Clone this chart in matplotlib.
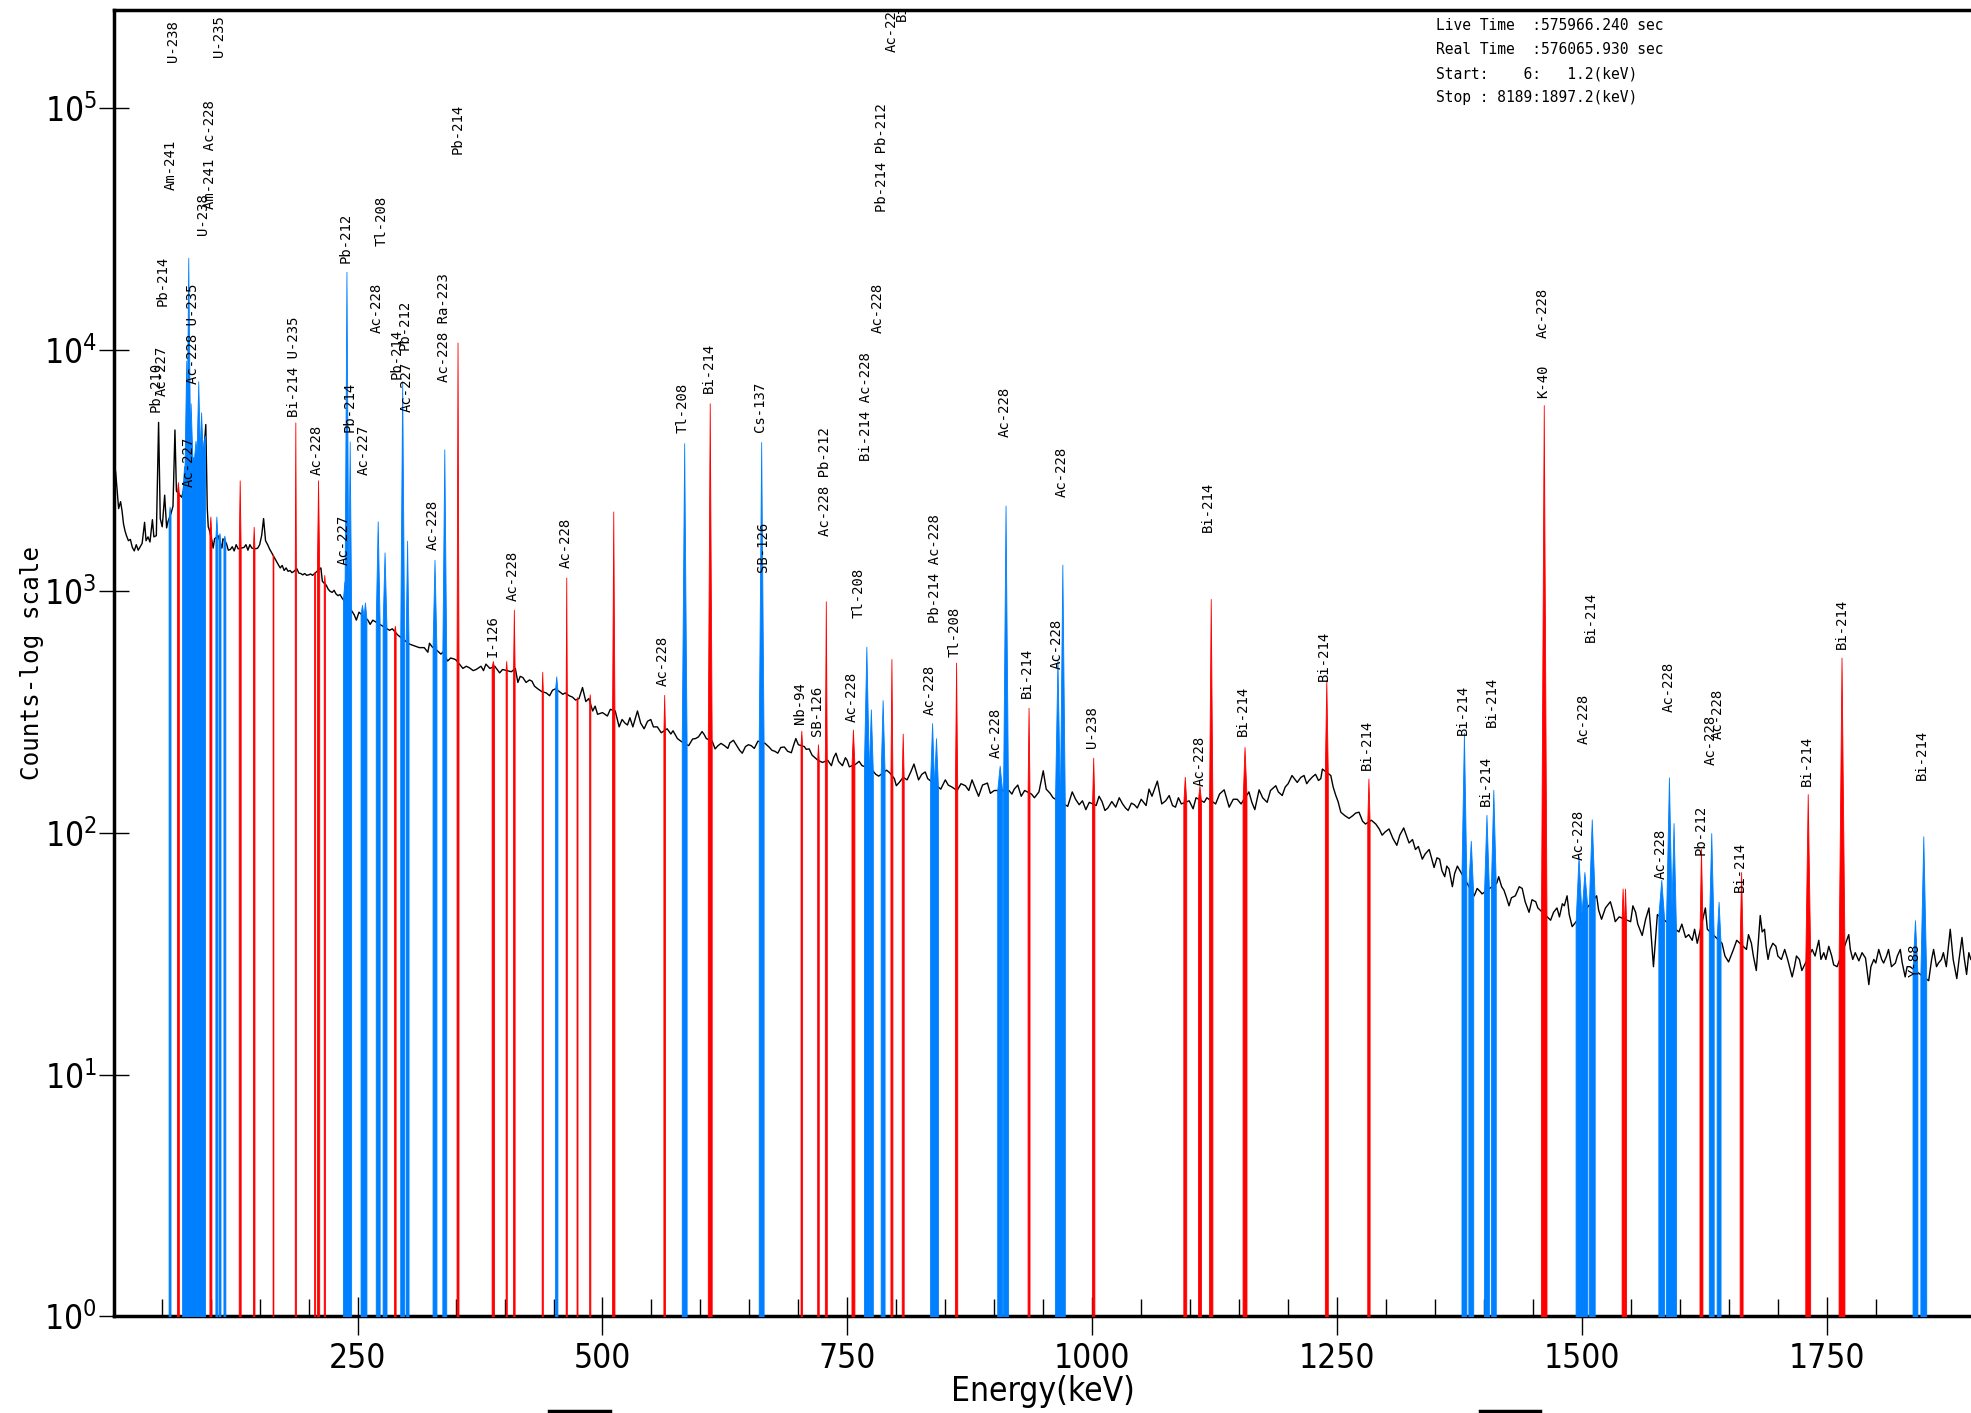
"""
Gamma spectrum with identified nuclide peaks (log counts vs energy).
"""
import os
import numpy as np
import matplotlib
matplotlib.use('Agg')
from matplotlib import pyplot as plt
from matplotlib import font_manager
from matplotlib.lines import Line2D
from matplotlib.ticker import MultipleLocator, NullLocator

# measured spectrum (continuum and unassigned spikes): energy in keV, counts
spec_kev = [
    1.5, 3, 4.5, 6, 8, 9.5, 11, 12.5, 14, 16,
    18, 20, 22, 24, 26, 28, 30, 32.5, 34, 36,
    38, 40.5, 42, 44.5, 46.8, 48.5, 50.5, 53, 55, 56.5,
    59.5, 61.5, 63.5, 65, 68.5, 70.5, 72, 74, 76, 78,
    80, 82, 84, 86, 88, 90, 92, 95, 96.5, 97.5,
    98.5, 101.5, 102.5, 104, 107.5, 111.5, 112.5, 116, 118, 120,
    122, 124, 126, 128, 131.5, 134, 136, 138, 140, 142,
    146, 148, 150, 152, 154, 156, 158.5, 160, 162, 165,
    167, 169, 171, 173, 175, 177, 179, 181, 183, 185,
    188, 190, 192, 194, 196, 198, 200, 202, 204, 212.5,
    214, 218, 220, 222, 224, 226, 228, 230, 232, 234,
    244, 246.5, 248.7, 251.4, 260.5, 262.8, 265.5, 280, 282.6, 285.4,
    291, 295, 303, 308, 313, 318, 321.7, 323.4, 326, 331,
    335, 337, 341.9, 345, 348.6, 350.5, 354, 357.5, 361, 364,
    368, 371, 376, 378.5, 381, 385, 390, 395, 398, 402.5,
    407, 411, 413.6, 416, 418.7, 422, 425.5, 428, 430.6, 434,
    438, 442.6, 446, 449, 452, 456, 459.5, 462, 466, 469.4,
    472.5, 476, 479.6, 483, 486, 490, 492.5, 495, 500, 505,
    508, 513, 517, 520, 523, 525.5, 528, 531, 535.7, 539,
    542.5, 546, 549.3, 552, 556, 560, 566, 569.8, 572, 576.5,
    580, 586, 588, 592, 595, 598, 601.7, 604, 606, 612,
    615, 618, 621, 624.5, 628, 630, 633.7, 637, 640, 642.7,
    646, 649, 651.8, 655, 658.7, 666, 670, 673, 676, 679,
    682, 685.7, 689, 692.8, 695, 697.4, 700, 706, 708, 711,
    714, 717, 720, 724.6, 730, 733.7, 736, 738.4, 741, 745,
    748, 749.8, 752, 758, 762, 765, 774, 779, 782, 790,
    793, 798, 800, 803, 807, 811, 815, 818, 822.7, 826,
    829.5, 832, 845.4, 850, 853, 856.8, 862, 866, 870.5, 874,
    877.3, 881, 884, 888, 893, 896, 900, 915, 918, 920.4,
    924, 927.5, 931, 938, 941, 945.6, 950, 953, 957, 960,
    975, 979.6, 983, 986.7, 990, 993.5, 997, 1004, 1007, 1010,
    1013, 1016, 1020, 1024, 1027.6, 1031, 1034, 1036.7, 1040, 1043,
    1046, 1050, 1055, 1058, 1061, 1066.5, 1071, 1075, 1078.6, 1082,
    1085, 1088, 1091, 1099, 1103, 1106, 1114.3, 1117, 1126, 1130,
    1134.7, 1139.8, 1144, 1148, 1152, 1160, 1163, 1166, 1170.4, 1174,
    1178.6, 1182, 1187.4, 1190, 1194, 1197, 1200, 1204, 1209.3, 1213,
    1216.3, 1219, 1221.4, 1225, 1228, 1231, 1233.4, 1235, 1243.6, 1246,
    1248.7, 1251, 1253.8, 1258, 1262.2, 1266, 1269, 1272.4, 1276, 1279,
    1285, 1289.5, 1293, 1296, 1299, 1303, 1307, 1311, 1314, 1318,
    1321, 1323.5, 1327, 1330, 1333, 1337, 1340, 1344, 1346, 1349,
    1352, 1354.7, 1357, 1359.9, 1362, 1364.3, 1367.7, 1370, 1372.8, 1390,
    1393, 1396.6, 1398, 1413, 1415, 1418, 1420.4, 1423, 1425.5, 1428,
    1432, 1436, 1439, 1442, 1446, 1449, 1452.8, 1455, 1468, 1471,
    1474.5, 1477, 1480, 1482, 1484.8, 1487, 1490, 1515, 1517, 1520,
    1524, 1529, 1532, 1534, 1538, 1549.7, 1552, 1554.8, 1557, 1561.5,
    1565, 1568.4, 1570, 1573, 1577, 1599, 1602, 1605.8, 1609, 1612.6,
    1615, 1617.7, 1626, 1628, 1643, 1646, 1649.7, 1654.7, 1658, 1668,
    1670, 1673, 1675, 1678, 1682, 1684, 1686.4, 1688, 1690, 1692,
    1694.9, 1698, 1700, 1703.6, 1707, 1710, 1714.6, 1717, 1719, 1722,
    1724.5, 1735, 1738, 1741.8, 1744, 1746.9, 1749, 1752, 1755, 1757,
    1760.5, 1772.4, 1774, 1776.5, 1779, 1782.7, 1786, 1789.5, 1792.9, 1795,
    1798, 1800, 1803, 1806, 1808, 1811, 1813, 1816, 1820, 1822,
    1825, 1827, 1830, 1832, 1835, 1854, 1857, 1859, 1862, 1864,
    1867, 1869, 1872, 1876, 1879, 1882.7, 1885, 1888, 1890, 1892.7,
    1895, 1897,
]
spec_cnt = [
    3400, 3100, 2600, 2200, 2350, 2150, 1900, 1780, 1700, 1620,
    1640, 1520, 1470, 1560, 1480, 1530, 1580, 1930, 1620, 1680,
    1600, 1980, 1680, 1700, 5000, 2000, 1850, 2500, 1830, 1950,
    2100, 2250, 4650, 2600, 2500, 2450, 2600, 3000, 3200, 3400,
    3300, 3400, 3300, 3400, 3300, 3200, 3300, 4900, 2200, 1850,
    1800, 1600, 1510, 1650, 1700, 1510, 1650, 1580, 1480, 1490,
    1530, 1470, 1560, 1500, 1510, 1520, 1560, 1480, 1560, 1510,
    1500, 1510, 1560, 1700, 2000, 1620, 1550, 1500, 1450, 1380,
    1330, 1290, 1250, 1280, 1220, 1250, 1210, 1220, 1195, 1210,
    1240, 1190, 1185, 1170, 1185, 1165, 1170, 1180, 1165, 1250,
    1100, 1060, 1020, 1000, 990, 1010, 975, 960, 970, 940,
    830, 800, 760, 820, 760, 730, 760, 700, 690, 700,
    660, 640, 605, 595, 585, 585, 560, 610, 590, 570,
    550, 560, 515, 530, 525, 520, 500, 480, 490, 483,
    470, 475, 490, 470, 500, 480, 490, 460, 475, 470,
    465, 480, 420, 445, 440, 420, 430, 425, 405, 395,
    385, 380, 370, 390, 395, 385, 375, 380, 370, 365,
    355, 360, 400, 350, 360, 320, 335, 310, 315, 305,
    325, 320, 275, 295, 285, 280, 300, 275, 320, 285,
    270, 290, 295, 275, 275, 260, 270, 257, 265, 246,
    240, 232, 230, 245, 246, 250, 263, 255, 246, 240,
    223, 230, 235, 230, 224, 236, 242, 230, 220, 214,
    228, 232, 230, 224, 240, 235, 227, 220, 218, 214,
    226, 227, 218, 215, 230, 246, 232, 228, 222, 223,
    210, 205, 200, 196, 200, 190, 205, 214, 198, 190,
    205, 200, 188, 192, 198, 190, 185, 175, 172, 182,
    178, 168, 157, 162, 170, 166, 180, 193, 166, 175,
    179, 168, 152, 166, 158, 155, 150, 160, 157, 150,
    166, 152, 142, 158, 161, 146, 150, 150, 145, 152,
    158, 142, 150, 145, 140, 148, 181, 152, 146, 140,
    129, 148, 138, 131, 136, 125, 134, 130, 142, 135,
    124, 127, 135, 128, 140, 132, 127, 124, 133, 131,
    127, 138, 130, 152, 142, 164, 132, 136, 143, 130,
    128, 140, 132, 136, 126, 140, 134, 140, 132, 145,
    151, 128, 138, 138, 132, 148, 134, 125, 151, 140,
    134, 150, 157, 148, 143, 155, 160, 173, 162, 170,
    173, 160, 165, 171, 175, 165, 168, 184, 173, 155,
    143, 135, 122, 118, 115, 118, 121, 122, 112, 109,
    113, 109, 104, 98, 101, 104, 95, 89, 98, 105,
    97, 91, 94, 85.5, 88, 78, 82, 85.5, 80, 72,
    79, 78, 70, 66, 73, 71, 60, 68, 73, 55,
    59, 57, 56, 62, 66, 60, 58, 54, 50, 54,
    55, 60, 59, 52, 47, 53, 52, 49, 43.6, 47,
    49, 45, 51, 50, 55, 46, 41, 55, 48, 44,
    49, 52, 47, 43, 45, 43, 50, 47, 42, 37.7,
    44, 49, 41, 28, 46, 39, 42, 37, 38, 36,
    40, 35, 49, 40, 35, 31, 29.3, 33, 36, 33,
    38, 35, 31, 27, 45.6, 39, 40, 34, 30, 33,
    35, 34, 31, 30, 33, 30, 25.4, 28, 31, 30,
    27, 33, 31, 36, 30, 32, 30, 34, 31, 28.5,
    28, 38, 33, 30, 32, 29.6, 32, 30.4, 23.6, 28,
    30, 29, 33, 30, 29, 31, 33, 28, 29, 31,
    33, 29, 25.4, 28, 28, 24.5, 30, 33, 28, 29,
    30, 32, 28, 40, 30, 25, 30, 37, 31, 26,
    32, 30,
]

# identified peaks: centroid (keV), top counts, colour key, half width (keV)
peak_kev = [
    58, 66.5, 72.8, 75, 77.1, 79.5, 82, 84.5, 87.3, 90.2, 92.7,
    99.7, 105.8, 109, 114, 129.6, 143.9, 163.6, 186.4, 206, 209.6, 216,
    236.5, 238.6, 241.9, 254.5, 257.5, 270.5, 277.5, 288, 295.5, 300.5, 328.5, 338.5, 352,
    388, 401.7, 409.5, 438.5, 452.8, 463, 474, 487, 511,
    563, 583.4, 609.5, 662, 703, 720, 728, 755.7, 769.4, 774, 786, 795, 806.5, 836.5, 840.5, 861,
    905.5, 911.5, 935, 964.5, 969.5, 1001,
    1094.5, 1109.5, 1121, 1155.5, 1239, 1282, 1379.5, 1386.5, 1402.5, 1409.5, 1461,
    1496.5, 1502.5, 1510, 1541.5, 1544, 1581, 1588.8, 1593.5, 1621.5, 1632, 1639.5, 1662.5,
    1730.5, 1765, 1840, 1848.5,
]
peak_cnt = [
    2240, 2830, 3300, 9000, 24000, 6000, 3600, 4200, 7400, 5500, 4200,
    2040, 2040, 1740, 1700, 2880, 1850, 1400, 5000, 1200, 2880, 1170,
    1100, 21000, 4170, 880, 900, 1950, 1450, 720, 7400, 1620, 1350, 3870, 10700,
    515, 515, 840, 465, 445, 1140, 365, 375, 2140,
    373, 4100, 6000, 4150, 265, 233, 910, 268, 590, 325, 355, 525, 258, 285, 247, 507,
    190, 2265, 330, 520, 1290, 205,
    171, 157, 930, 227, 430, 168, 260, 93, 119, 151, 5900,
    80, 69, 114, 59, 59, 64, 170, 110, 86, 100, 52, 69,
    145, 532, 43.6, 97,
]
peak_col = [
    'b', 'r', 'b', 'b', 'b', 'b', 'b', 'b', 'b', 'b', 'b',
    'r', 'b', 'b', 'b', 'r', 'r', 'r', 'r', 'r', 'r', 'r',
    'b', 'b', 'b', 'b', 'b', 'b', 'b', 'r', 'b', 'b', 'b', 'b', 'r',
    'r', 'r', 'r', 'r', 'b', 'r', 'r', 'r', 'r',
    'r', 'b', 'r', 'b', 'r', 'r', 'r', 'r', 'b', 'b', 'b', 'r', 'r', 'b', 'b', 'r',
    'b', 'b', 'r', 'b', 'b', 'r',
    'r', 'r', 'r', 'r', 'r', 'r', 'b', 'b', 'b', 'b', 'r',
    'b', 'b', 'b', 'r', 'r', 'b', 'b', 'b', 'r', 'b', 'b', 'r',
    'r', 'r', 'b', 'b',
]
peak_hw = [
    1.0, 1.0, 2.0, 2.0, 2.0, 2.0, 2.0, 2.0, 2.0, 2.0, 1.5,
    1.0, 1.0, 1.0, 1.0, 1.0, 0.8, 0.4, 0.6, 0.4, 1.2, 0.6,
    1.5, 2.0, 1.5, 1.5, 1.5, 2.0, 2.0, 0.8, 2.0, 1.5, 2.0, 2.0, 1.0,
    1.2, 0.6, 0.8, 0.6, 1.2, 0.6, 0.5, 0.6, 1.2,
    0.8, 2.5, 2.0, 2.5, 0.8, 0.8, 1.0, 1.5, 2.5, 2.0, 2.0, 1.0, 1.0, 2.0, 2.0, 1.2,
    2.5, 2.5, 1.0, 2.5, 2.5, 1.2,
    1.5, 1.5, 1.7, 2.0, 1.5, 1.2, 2.5, 2.5, 2.5, 2.5, 2.8,
    3.0, 3.0, 3.0, 1.0, 1.0, 3.0, 3.0, 2.5, 1.5, 2.5, 2.0, 1.5,
    2.5, 3.0, 2.5, 3.0,
]

# nuclide labels: text, energy (keV), counts where the text starts
label_txt = [
    'Pb-210', 'Ac-227', 'Pb-214', 'Am-241', 'U-238', 'Ac-227', 'Ac-228 U-235',
    'U-238', 'Am-241 Ac-228', 'U-235', 'Bi-214 U-235', 'Ac-228', 'Ac-227',
    'Pb-212', 'Pb-214', 'Ac-227', 'Ac-228', 'Tl-208', 'Pb-214', 'Pb-212',
    'Ac-227', 'Ac-228', 'Ac-228 Ra-223', 'Pb-214', 'I-126', 'Ac-228', 'Ac-228',
    'Ac-228', 'Tl-208', 'Bi-214', 'Cs-137', 'SB-126', 'Nb-94', 'SB-126',
    'Ac-228 Pb-212', 'Ac-228', 'Tl-208', 'Bi-214 Ac-228', 'Ac-228',
    'Pb-214 Pb-212', 'Ac-228', 'Bi-214', 'Ac-228', 'Pb-214 Ac-228', 'Tl-208',
    'Ac-228', 'Ac-228', 'Bi-214', 'Ac-228', 'Ac-228', 'U-238', 'Ac-228',
    'Bi-214', 'Bi-214', 'Bi-214', 'Bi-214', 'Bi-214', 'Bi-214', 'Bi-214',
    'K-40', 'Ac-228', 'Ac-228', 'Ac-228', 'Bi-214', 'Ac-228', 'Ac-228',
    'Pb-212', 'Ac-228', 'Ac-228', 'Bi-214', 'Bi-214', 'Bi-214', 'Y-88', 'Bi-214',
]
label_kev = [
    44, 49.6, 51, 59, 62, 78, 81.6, 92, 98.8, 108, 185, 208.5, 235.4,
    237.8, 242, 256, 269.6, 275, 289.5, 298, 300, 326.5, 338, 351.6, 388,
    408.6, 462, 562, 582, 608.6, 661, 664, 702, 719, 727, 755, 762, 769,
    781, 785.5, 795, 806, 834, 839.5, 860, 902, 911, 933, 964, 968.6, 1000,
    1110, 1118.5, 1154, 1237, 1280.6, 1378, 1401.7, 1408.5, 1460, 1460,
    1497, 1502, 1509, 1580, 1588.8, 1620.7, 1631, 1639, 1661.6, 1729.8,
    1765, 1840, 1847,
]
label_cnt = [
    5500, 6460, 15100, 45700, 155000, 2690, 7240, 29900, 38000, 162000,
    5250, 3020, 1290, 22900, 4570, 3020, 11700, 26900, 7590, 10000, 5500,
    1480, 7330, 64600, 537, 912, 1245, 407, 4520, 6610, 4570, 1200, 282,
    251, 1700, 288, 776, 3470, 11700, 37200, 170000, 229000, 309, 741, 537,
    204, 4365, 363, 479, 2455, 224, 157, 1760, 251, 427, 182, 254, 129, 275,
    6310, 11200, 77.6, 234, 617, 64.6, 316, 81.3, 191, 245, 56.9, 157, 580,
    25.4, 166,
]

info_lines = [
    'Live Time  :575966.240 sec',
    'Real Time  :576065.930 sec',
    'Start:    6:   1.2(keV)',
    'Stop : 8189:1897.2(keV)',
]

x_ticks = [250, 500, 750, 1000, 1250, 1500, 1750]
y_ticks = [1, 10, 100, 1000, 10000, 100000]
y_tick_labels = [r'$\mathregular{10^{%d}}$' % i for i in range(6)]


def narrow_font():
    """Pick a condensed sans face for the axis texts, DejaVu Sans otherwise."""
    wanted = ['liberationsansnarrow-regular', 'dejavusanscondensed.',
              'robotocondensed-regular', 'roboto_condensed-regular',
              'opensans_condensed-regular', 'opensanscondensed-regular',
              'notosans-condensed.', 'notosanscondensed-regular']
    faces = font_manager.fontManager.ttflist
    for key in wanted:
        for f in faces:
            if os.path.basename(f.fname).lower().startswith(key):
                return font_manager.FontProperties(fname=f.fname)
    for f in faces:
        if (f.stretch in ('condensed', 'semi-condensed')
                and f.style == 'normal' and f.weight in (400, 'normal')):
            return font_manager.FontProperties(fname=f.fname)
    return font_manager.FontProperties(family='DejaVu Sans')


MONO = ['DejaVu Sans Mono']
COLOURS = {'r': '#ff0000', 'b': '#0080ff'}
narrow = narrow_font()

fig = plt.figure(figsize=(19.71, 14.13), dpi=100)
ax = fig.add_axes([0.0578, 0.0683, 0.9422, 0.9246])
ax.set_yscale('log')
ax.set_xlim(1.2, 1897.2)
ax.set_ylim(1, 10 ** 5.405)

# spectrum line
ax.plot(spec_kev, spec_cnt, color='black', lw=1.0, zorder=2)

# coloured peak columns from the bottom of the axis up to the peak top
log_cnt = np.log10(spec_cnt)
for e, h, c, hw in zip(peak_kev, peak_cnt, peak_col, peak_hw):
    feet = 10 ** np.interp([e - hw, e + hw], spec_kev, log_cnt)
    ax.fill_between([e - hw, e, e + hw], 1, [feet[0], h, feet[1]],
                    facecolor=COLOURS[c], edgecolor=COLOURS[c], lw=0.6,
                    zorder=3)

for txt, e, y in zip(label_txt, label_kev, label_cnt):
    ax.text(e, y, txt, rotation=90, ha='center', va='bottom', family=MONO,
            fontsize=10, clip_on=True, zorder=4)

for i, line in enumerate(info_lines):
    ax.text(0.712, 0.9885 - i * 0.0186, line, transform=ax.transAxes,
            family=MONO, fontsize=10.5, ha='left', va='center')

ax.set_xticks(x_ticks)
ax.set_xticklabels([str(t) for t in x_ticks], fontproperties=narrow,
                   fontsize=24)
ax.xaxis.set_minor_locator(MultipleLocator(50))
ax.set_yticks(y_ticks)
ax.set_yticklabels(y_tick_labels, fontproperties=narrow, fontsize=24)
ax.yaxis.set_minor_locator(NullLocator())

ax.tick_params(axis='x', which='major', direction='inout', length=27,
               width=1, pad=5)
ax.tick_params(axis='x', which='minor', direction='in', length=12, width=1)
ax.tick_params(axis='y', which='major', direction='inout', length=21,
               width=1, pad=2)

for side in ['left', 'bottom', 'top']:
    ax.spines[side].set_linewidth(2.5)
ax.spines['right'].set_visible(False)

ax.set_xlabel('Energy(keV)', fontproperties=narrow, fontsize=24)
ax.xaxis.set_label_coords(0.5, -0.0448)
ax.set_ylabel('Counts-log scale', family=MONO, fontsize=17.5)
ax.yaxis.set_label_coords(-0.0377, 0.5)

# two short bars cut by the bottom edge of the picture
for x0, x1 in [(0.2786, 0.3095), (0.7509, 0.7813)]:
    fig.add_artist(Line2D([x0, x1], [0.0012, 0.0012], color='black', lw=2.5))

fig.savefig('out.png', dpi=100)
plt.close(fig)
